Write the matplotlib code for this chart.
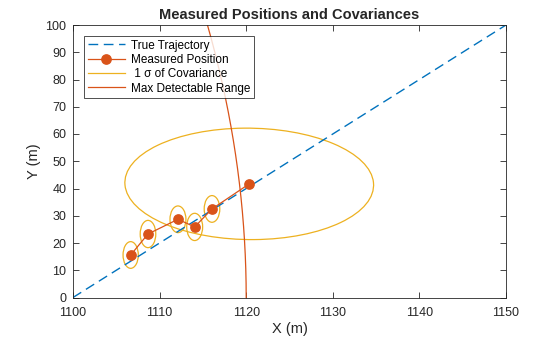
import numpy as np
import matplotlib
matplotlib.use('Agg')
import matplotlib.pyplot as plt
from matplotlib.patches import Ellipse
from matplotlib.lines import Line2D

# True trajectory end points
true_x = [1100, 1150]
true_y = [0, 100]

# Measured positions
meas_x = [1106.66, 1108.66, 1112.12, 1114.05, 1116.05, 1120.35]
meas_y = [15.6, 23.3, 28.7, 25.9, 32.5, 41.7]

# 1-sigma covariance values (m, m, m^2)
sigma_x = [0.88, 0.90, 0.92, 0.92, 0.90, 14.36]
sigma_y = [4.9, 5.0, 4.9, 5.0, 4.9, 20.45]
cov_xy = [0.0, 0.0, 0.0, 0.0, 0.0, -6.3]

# Max detectable range around the sensor at the origin
max_range = 1120

blue = '#0072BD'
orange = '#D95319'
yellow = '#EDB120'
axcol = '#262626'

plt.rcParams['font.family'] = ['Liberation Sans', 'DejaVu Sans']

fig = plt.figure(figsize=(5.6, 3.37), dpi=100)
ax = fig.add_axes([73 / 560, 1 - 297.5 / 337, 433 / 560, 272.5 / 337])

ax.plot(true_x, true_y, color=blue, lw=1.0, dashes=(7, 4))
ax.plot(meas_x, meas_y, color=orange, lw=0.9, marker='o', markersize=6.7)

for cx, cy, sx, sy, sxy in zip(meas_x, meas_y, sigma_x, sigma_y, cov_xy):
    cov = np.array([[sx ** 2, sxy], [sxy, sy ** 2]])
    vals, vecs = np.linalg.eigh(cov)
    ang = np.degrees(np.arctan2(vecs[1, 1], vecs[0, 1]))
    ax.add_patch(Ellipse((cx, cy), 2 * np.sqrt(vals[1]), 2 * np.sqrt(vals[0]),
                         angle=ang, fill=False, edgecolor=yellow, lw=0.9))

# range circle, only the part near the plotted window
th = np.linspace(0, 0.1, 300)
ax.plot(max_range * np.cos(th), max_range * np.sin(th), color=orange, lw=0.9)

ax.set_xlim(1100, 1150)
ax.set_ylim(0, 100)
ax.set_xticks(range(1100, 1151, 10))
ax.set_yticks(range(0, 101, 10))
ax.tick_params(direction='in', length=4, width=0.6, top=True, right=True,
               labelsize=9, colors=axcol)
ax.tick_params(axis='x', pad=6.8)
ax.tick_params(axis='y', pad=4.7)
for s in ax.spines.values():
    s.set_color(axcol)
    s.set_linewidth(0.6)

ax.set_xlabel('X (m)', fontsize=10.5, color=axcol, labelpad=2.5)
ax.set_ylabel('Y (m)', fontsize=10.5, color=axcol, labelpad=3)
ax.set_title('Measured Positions and Covariances', fontsize=10.5, fontweight='bold',
             color=axcol, pad=4)

handles = [
    Line2D([], [], color=blue, lw=1.0, dashes=(7, 4)),
    Line2D([], [], color=orange, lw=0.9, marker='o', markersize=6.7),
    Line2D([], [], color=yellow, lw=0.9),
    Line2D([], [], color=orange, lw=0.9),
]
labels = ['True Trajectory', 'Measured Position', ' 1 σ of Covariance', 'Max Detectable Range']
leg = ax.legend(handles, labels, loc='upper left', bbox_to_anchor=(11 / 433, 1 - 11 / 272.5),
                borderaxespad=0, fontsize=8.5, frameon=True, fancybox=False,
                handlelength=3.2, handletextpad=0.5, labelspacing=0.2,
                borderpad=0.3)
leg.get_frame().set_edgecolor('black')
leg.get_frame().set_linewidth(0.6)

fig.savefig('out.png', dpi=100)
